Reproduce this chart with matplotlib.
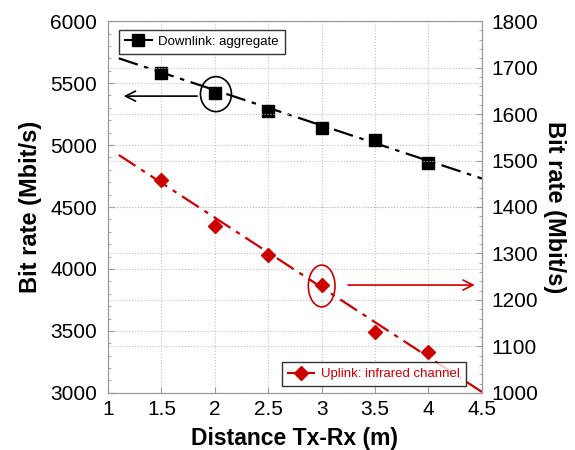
import matplotlib
matplotlib.use('Agg')
import matplotlib.pyplot as plt
from matplotlib.patches import Ellipse
from matplotlib.ticker import MultipleLocator
import numpy as np

plt.rcParams['font.family'] = ['Liberation Sans', 'DejaVu Sans']

# data
distance = [1.5, 2.0, 2.5, 3.0, 3.5, 4.0]
downlink = [5580, 5420, 5275, 5140, 5040, 4855]   # left axis
uplink = [1458, 1360, 1297, 1232, 1130, 1088]     # right axis
fit_x = [1.1, 4.5]
downlink_fit = [5700, 4730]
uplink_fit = [1512, 1002]
xticks = [1, 1.5, 2, 2.5, 3, 3.5, 4, 4.5]
xticklabels = ['1', '1.5', '2', '2.5', '3', '3.5', '4', '4.5']

red = '#cc0000'
grid_kw = dict(color='#c0c0c0', ls=':', lw=0.8)

fig = plt.figure(figsize=(5.75, 4.5), dpi=100)
ax = fig.add_axes([0.188, 0.127, 0.65, 0.826])
ax2 = ax.twinx()

# left axis: downlink
ax.plot(fit_x, downlink_fit, color='black', lw=1.6, ls=(0, (9, 3, 2, 3)), zorder=3)
ax.plot(distance, downlink, ls='none', marker='s', ms=8, color='black', zorder=4)
ax.set_xlim(1, 4.5)
ax.set_ylim(3000, 6000)
ax.set_xticks(xticks)
ax.set_xticklabels(xticklabels)
ax.yaxis.set_major_locator(MultipleLocator(500))
ax.yaxis.set_minor_locator(MultipleLocator(100))
ax.tick_params(axis='both', which='major', labelsize=15, direction='in', length=4, color='#999999', pad=5)
ax.tick_params(axis='y', which='major', pad=8)
ax.tick_params(axis='y', which='minor', direction='in', length=2, color='#999999')
ax.set_xlabel('Distance Tx-Rx (m)', fontsize=16.5, fontweight='bold', labelpad=6)
ax.set_ylabel('Bit rate (Mbit/s)', fontsize=17, fontweight='bold', labelpad=6)
ax.grid(axis='both', **grid_kw)
for s in ax.spines.values():
    s.set_color('#999999')

# right axis: uplink
ax2.plot(fit_x, uplink_fit, color=red, lw=1.6, ls=(0, (9, 3, 2, 3)), zorder=3)
ax2.plot(distance, uplink, ls='none', marker='D', ms=7, color=red, zorder=4)
ax2.set_ylim(1000, 1800)
ax2.yaxis.set_major_locator(MultipleLocator(100))
ax2.yaxis.set_minor_locator(MultipleLocator(20))
ax2.tick_params(axis='y', which='major', labelsize=15, direction='in', length=4, color='#999999', pad=7)
ax2.tick_params(axis='y', which='minor', direction='in', length=2, color='#999999')
ax2.set_ylabel('Bit rate (Mbit/s)', fontsize=17, fontweight='bold', rotation=270, labelpad=20)
ax2.grid(axis='y', **grid_kw)
for s in ax2.spines.values():
    s.set_color('#999999')

# legends
h1 = ax.plot([], [], color='black', marker='s', ms=8, lw=1.5)[0]
leg1 = ax.legend([h1], ['Downlink: aggregate'], loc='upper left', bbox_to_anchor=(0.012, 0.995),
                 fontsize=9.5, fancybox=False, edgecolor='black', handlelength=2.0,
                 borderpad=0.45, handletextpad=0.5)
leg1.get_frame().set_linewidth(1.0)
h2 = ax2.plot([], [], color=red, marker='D', ms=7, lw=1.5)[0]
leg2 = ax2.legend([h2], ['Uplink: infrared channel'], loc='lower right', bbox_to_anchor=(0.975, 0.0),
                  fontsize=9.5, fancybox=False, edgecolor='black', handlelength=2.0,
                  borderpad=0.45, handletextpad=0.5)
leg2.get_frame().set_linewidth(1.0)
for t in leg2.get_texts():
    t.set_color(red)

# annotations: ellipses and arrows
ax.add_patch(Ellipse((2.01, 5411), 0.29, 282, fill=False, ec='black', lw=1.2, zorder=5))
ax.annotate('', xy=(1.12, 5395), xytext=(1.86, 5395),
            arrowprops=dict(arrowstyle='->', color='black', lw=1.2, mutation_scale=18))
ax2.add_patch(Ellipse((3.0, 1230), 0.25, 90, fill=False, ec=red, lw=1.2, zorder=5))
ax2.annotate('', xy=(4.46, 1232), xytext=(3.22, 1232),
             arrowprops=dict(arrowstyle='->', color=red, lw=1.2, mutation_scale=18))

fig.savefig('out.png', dpi=100)
